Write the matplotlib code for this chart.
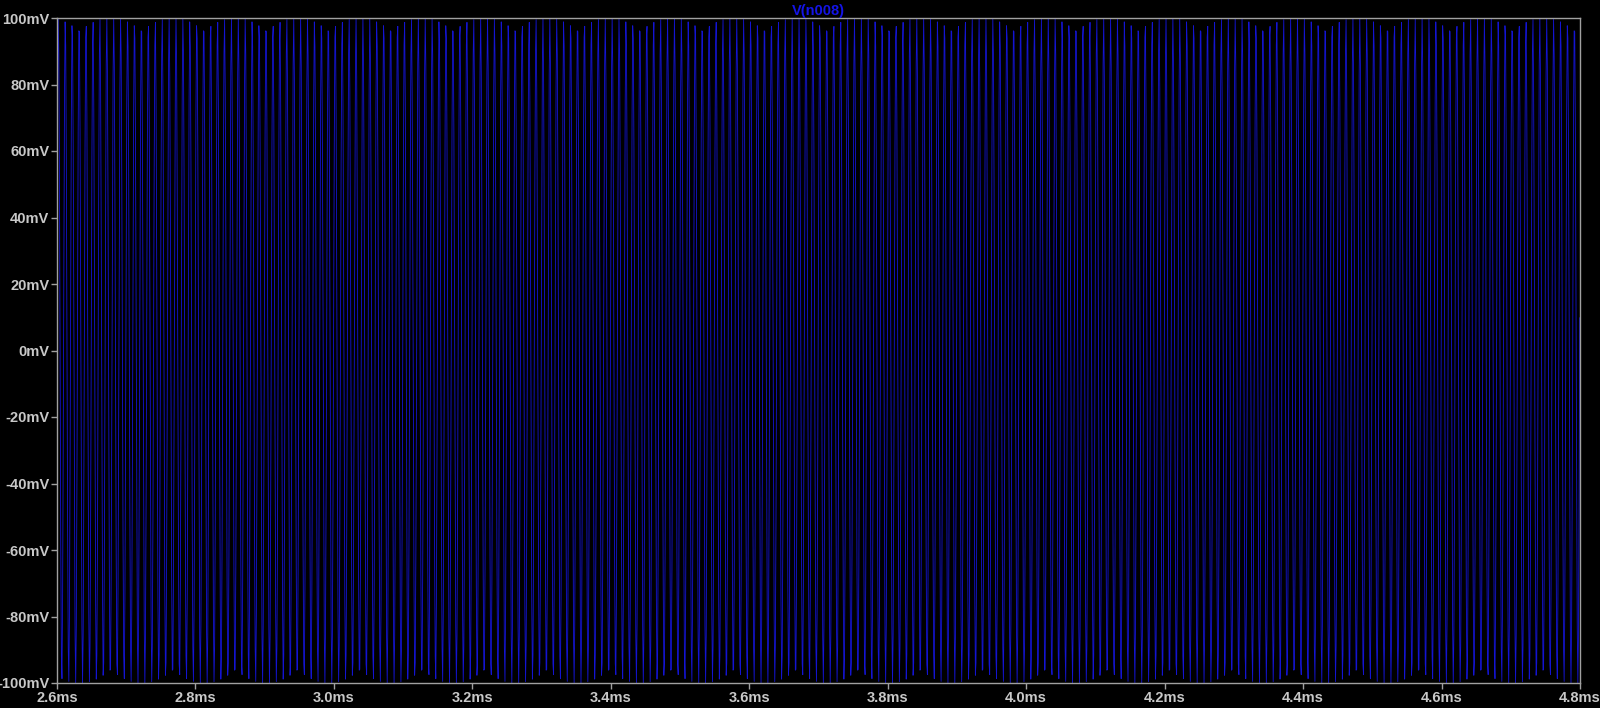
import numpy as np
import matplotlib.pyplot as plt
from matplotlib.ticker import FuncFormatter

# trace parameters (LTspice transient, V(n008))
trace_name = "V(n008)"
t_start_ms = 2.6
t_stop_ms = 4.8
freq_khz = 100.0        # ~20 cycles per 0.2 ms division
amplitude_mv = 100.0
phase_rad = 0.35        # trace enters at about +34 mV
step_us = 0.9           # coarse simulator time step

y_ticks = [-100, -80, -60, -40, -20, 0, 20, 40, 60, 80, 100]
x_ticks = [2.6, 2.8, 3.0, 3.2, 3.4, 3.6, 3.8, 4.0, 4.2, 4.4, 4.6, 4.8]

t_ms = np.arange(t_start_ms, t_stop_ms + 1e-9, step_us / 1000.0)
v_mv = amplitude_mv * np.sin(2 * np.pi * freq_khz * t_ms + phase_rad)

fig = plt.figure(figsize=(16, 7.08), dpi=100, facecolor="black")
ax = fig.add_axes([57 / 1600, 25 / 708, 1523 / 1600, 665 / 708], facecolor="black")

ax.plot(t_ms, v_mv, color="#1414d2", lw=0.6, antialiased=True)

ax.set_xlim(t_start_ms, t_stop_ms)
ax.set_ylim(-100, 100)
ax.set_xticks(x_ticks)
ax.set_yticks(y_ticks)
ax.xaxis.set_major_formatter(FuncFormatter(lambda v, p: f"{v:.1f}ms"))
ax.yaxis.set_major_formatter(FuncFormatter(lambda v, p: f"{int(round(v))}mV"))

label_font = dict(family="Liberation Sans", weight="bold", size=10.5)
for lab in ax.get_xticklabels() + ax.get_yticklabels():
    lab.set_fontfamily(label_font["family"])
    lab.set_fontweight(label_font["weight"])
    lab.set_fontsize(label_font["size"])

ax.tick_params(colors="#a0a0a0", labelcolor="#c8c8c8", length=4, width=1, pad=1.5)
for sp in ax.spines.values():
    sp.set_color("#a0a0a0")
    sp.set_linewidth(1)

ax.set_title(trace_name, color="#1414e6", pad=2, **label_font)

fig.savefig("out.png", dpi=100, facecolor="black")
